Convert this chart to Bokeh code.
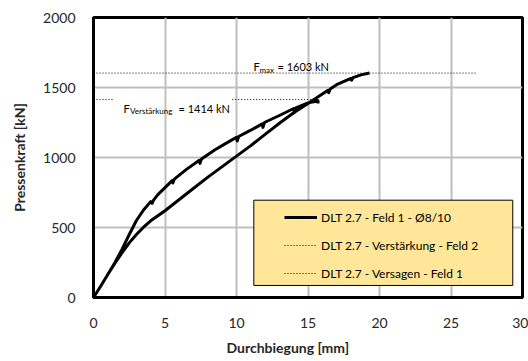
import math
from bokeh.plotting import figure
from bokeh.models import Legend, LegendItem, Label, BoxAnnotation, Range1d, Title
from bokeh.embed import file_html
from bokeh.resources import INLINE

# ---------------- data ----------------
x_ticks = [0, 5, 10, 15, 20, 25, 30]
y_ticks = [0, 500, 1000, 1500, 2000]

# first loading branch (ends at reinforcement load)
branch1_x = [0, 0.5, 1.0, 1.5, 2.0, 2.5, 3.0, 3.5, 4.0, 4.1, 4.2, 4.5, 5.0, 5.5, 5.55, 5.65,
             6.5, 7.4, 7.45, 7.55, 8.5, 9.5, 10.0, 10.05, 10.15, 11.0, 11.8, 11.85, 11.95,
             13.0, 14.0, 14.05, 14.15, 15.0, 15.5, 15.7, 15.7]
branch1_y = [0, 80, 165, 250, 345, 450, 550, 625, 685, 672, 695, 735, 785, 835, 818, 845,
             915, 980, 958, 990, 1055, 1115, 1145, 1118, 1150, 1195, 1240, 1215, 1250,
             1300, 1350, 1320, 1355, 1390, 1400, 1405, 1385]

# second loading branch (up to failure)
branch2_x = [0, 0.5, 1.0, 1.5, 2.0, 2.5, 3.0, 3.5, 4.0, 5.0, 6.0, 7.0, 8.0, 9.0, 10.0,
             11.0, 12.0, 13.0, 14.0, 15.0, 15.5, 16.4, 16.45, 16.55, 17.0, 18.0, 18.05,
             18.15, 18.7, 19.3]
branch2_y = [0, 80, 165, 245, 320, 390, 450, 502, 548, 620, 700, 780, 860, 935, 1010,
             1085, 1165, 1245, 1320, 1385, 1420, 1480, 1462, 1490, 1520, 1565, 1552,
             1570, 1590, 1603]

F_verst = 1414   # kN
F_max = 1603     # kN
verst_x = [0, 1.4, float("nan"), 9.7, 15.7]   # dotted line, gap for label
max_x = [0, 26.8]

series_names = ["DLT 2.7 - Feld 1 - Ø8/10",
                "DLT 2.7 - Verstärkung - Feld 2",
                "DLT 2.7 - Versagen - Feld 1"]
x_title = "Durchbiegung [mm]"
y_title = "Pressenkraft [kN]"

FONT = "Lato"

p = figure(width=528, height=361, output_backend="svg", toolbar_location=None,
           title_location=None,
           x_range=Range1d(0, 30), y_range=Range1d(0, 2000),
           min_border_left=93, min_border_right=6, min_border_top=17,
           min_border_bottom=64, background_fill_color="white",
           border_fill_color="white")

# axes
for ax in (p.xaxis, p.yaxis):
    ax.axis_line_color = "black"
    ax.axis_line_width = 3
    ax.major_tick_line_color = None
    ax.minor_tick_line_color = None
    ax.major_tick_out = 0
    ax.major_tick_in = 0
    ax.major_label_text_font = FONT
    ax.major_label_text_font_size = "14px"
    ax.major_label_text_color = "#262626"
p.xaxis.ticker = x_ticks
p.yaxis.ticker = y_ticks
p.xaxis.major_label_standoff = 20
p.yaxis.major_label_standoff = 18

p.yaxis.axis_label = y_title
p.yaxis.axis_label_text_font = FONT
p.yaxis.axis_label_text_font_style = "bold"
p.yaxis.axis_label_text_font_size = "14px"
p.yaxis.axis_label_text_color = "#262626"
p.yaxis.axis_label_standoff = 12

# x-axis title, slightly left of the plot centre as in the original
xt = Title(text=x_title, align="left", offset=133, standoff=12,
           text_font=FONT, text_font_style="bold", text_font_size="14px",
           text_color="#262626")
p.add_layout(xt, "below")

p.grid.grid_line_color = "#bfbfbf"
p.grid.grid_line_width = 2
p.outline_line_color = "black"
p.outline_line_width = 3
p.outline_line_alpha = 1

# curve: two branches separated by a gap
curve_x = branch1_x + [float("nan")] + branch2_x
curve_y = branch1_y + [float("nan")] + branch2_y
r1 = p.line(curve_x, curve_y, line_color="black", line_width=3, line_join="round")
r2 = p.line(verst_x, [F_verst if not math.isnan(v) else float("nan") for v in verst_x],
            line_color="black", line_width=1, line_dash="1 2")
r3 = p.line(max_x, [F_max] * len(max_x), line_color="black", line_width=1,
            line_dash="1 2")

# value labels
def lab(x_off, y_val, y_off, text, size):
    p.add_layout(Label(x=0, y=y_val, x_offset=x_off, y_offset=y_off, text=text,
                       text_font=FONT, text_font_size=size, text_color="black",
                       text_align="left", text_baseline="alphabetic"))

lab(30, F_verst, -9, "F", "11px")
lab(36.5, F_verst, -11.5, "Verstärkung", "8px")
lab(85, F_verst, -9, f"= {F_verst} kN", "11px")

lab(160, F_max, 6.5, "F", "11px")
lab(166, F_max, 3.5, "max", "8px")
lab(184, F_max, 6.5, f"= {F_max} kN", "11px")

# legend box and legend
box = BoxAnnotation(left=11.21, right=29.32, bottom=86, top=695,
                    fill_color="#FFE699", fill_alpha=1,
                    line_color="black", line_width=1, line_alpha=1)
p.add_layout(box)

legend = Legend(items=[LegendItem(label=series_names[0], renderers=[r1]),
                       LegendItem(label=series_names[1], renderers=[r2]),
                       LegendItem(label=series_names[2], renderers=[r3])],
                location=(191, 14), padding=5, margin=0, spacing=8,
                glyph_width=33, glyph_height=20, label_height=20,
                label_standoff=4, background_fill_alpha=0,
                border_line_color=None, label_text_font=FONT,
                label_text_font_size="12px", label_text_color="black")
p.add_layout(legend)

open("out.html", "w").write(file_html(p, INLINE))
